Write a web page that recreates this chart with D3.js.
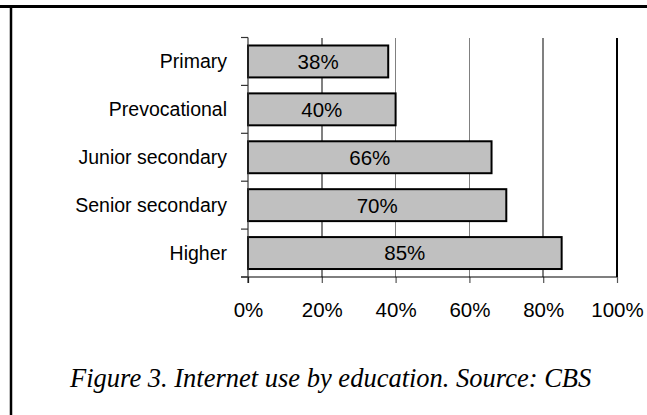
<!DOCTYPE html>
<html>
<head>
<meta charset="utf-8">
<script src="https://cdn.jsdelivr.net/npm/d3@7/dist/d3.min.js"></script>
<style>
  html, body { margin: 0; padding: 0; background: #fff; }
  svg { display: block; }
</style>
</head>
<body>
<svg id="chart" width="647" height="415"></svg>
<script>
// Share of people using the internet, by level of education
const categories = ["Primary", "Prevocational", "Junior secondary", "Senior secondary", "Higher"];
const values = [38, 40, 66, 70, 85];
const xTicks = [0, 20, 40, 60, 80, 100];
const caption = "Figure 3. Internet use by education. Source: CBS";

const svg = d3.select("#chart");
const W = 647, H = 415;
const plot = { left: 248, right: 617, top: 37.5, bottom: 277 };
const sansFont = "Arial, 'Liberation Sans', Helvetica, sans-serif";

// frame: heavy rule across the top, rule down the left side
svg.append("line").attr("x1", 0).attr("x2", W).attr("y1", 6.5).attr("y2", 6.5)
  .attr("stroke", "#000").attr("stroke-width", 3);
svg.append("line").attr("x1", 11).attr("x2", 11).attr("y1", 5).attr("y2", H)
  .attr("stroke", "#000").attr("stroke-width", 2.5);

const x = d3.scaleLinear().domain([0, 100]).range([plot.left, plot.right]);
const y = d3.scaleBand().domain(categories).range([plot.top, plot.bottom])
  .paddingInner(1 / 3).paddingOuter(1 / 6);

// vertical gridlines (last one acts as plot edge)
svg.append("g").selectAll("line").data(xTicks.filter(d => d > 0)).join("line")
  .attr("x1", d => x(d)).attr("x2", d => x(d))
  .attr("y1", plot.top).attr("y2", plot.bottom)
  .attr("stroke", d => d === 100 ? "#000" : "#808080")
  .attr("stroke-width", d => d === 100 ? 1.2 : 1.5)
  .attr("shape-rendering", "crispEdges");

// bars
svg.append("g").selectAll("rect").data(values).join("rect")
  .attr("x", x(0))
  .attr("y", (d, i) => y(categories[i]))
  .attr("width", d => x(d) - x(0))
  .attr("height", y.bandwidth())
  .attr("fill", "#c0c0c0")
  .attr("stroke", "#000")
  .attr("stroke-width", 2);

// value labels inside bars
svg.append("g").selectAll("text").data(values).join("text")
  .attr("x", d => (x(0) + x(d)) / 2)
  .attr("y", (d, i) => y(categories[i]) + y.bandwidth() / 2)
  .attr("dy", "0.36em")
  .attr("text-anchor", "middle")
  .attr("font-family", sansFont).attr("font-size", 20.5)
  .attr("fill", "#000")
  .text(d => d + "%");

// x axis
const xAxis = d3.axisBottom(x).tickValues(xTicks).tickFormat(d => d + "%")
  .tickSize(6).tickSizeOuter(0).tickPadding(0);
const gx = svg.append("g").attr("transform", `translate(0,${plot.bottom})`).call(xAxis);
gx.select(".domain").remove();
gx.selectAll(".tick line").attr("stroke", d => d === 0 ? "#000" : "#555").attr("stroke-width", 1.2);
gx.selectAll(".tick text").attr("font-family", sansFont).attr("font-size", 20.5)
  .attr("fill", "#000").attr("y", 39.5).attr("dy", null);
svg.append("line").attr("x1", plot.left - 7).attr("x2", plot.right)
  .attr("y1", plot.bottom).attr("y2", plot.bottom)
  .attr("stroke", "#000").attr("stroke-width", 1.2);

// y axis: line, ticks at category boundaries, labels
const gy = svg.append("g");
gy.append("line").attr("x1", plot.left).attr("x2", plot.left)
  .attr("y1", plot.top).attr("y2", plot.bottom + 6)
  .attr("stroke", "#333").attr("stroke-width", 1.2);
const bounds = categories.map(c => y(c) - y.step() * y.paddingInner() / 2).concat([plot.bottom]);
gy.selectAll("line.tk").data(bounds).join("line").attr("class", "tk")
  .attr("x1", plot.left - 7).attr("x2", plot.left)
  .attr("y1", d => d).attr("y2", d => d)
  .attr("stroke", "#333").attr("stroke-width", 1.2);
gy.selectAll("text").data(categories).join("text")
  .attr("x", plot.left - 21)
  .attr("y", d => y(d) + y.bandwidth() / 2)
  .attr("dy", "0.36em")
  .attr("text-anchor", "end")
  .attr("font-family", sansFont).attr("font-size", 19.5)
  .attr("fill", "#000")
  .text(d => d);

// caption
svg.append("text").attr("x", 70).attr("y", 387)
  .attr("font-family", "'Times New Roman', 'Liberation Serif', serif")
  .attr("font-style", "italic").attr("font-size", 26.5)
  .attr("fill", "#000")
  .text(caption);
</script>
</body>
</html>
